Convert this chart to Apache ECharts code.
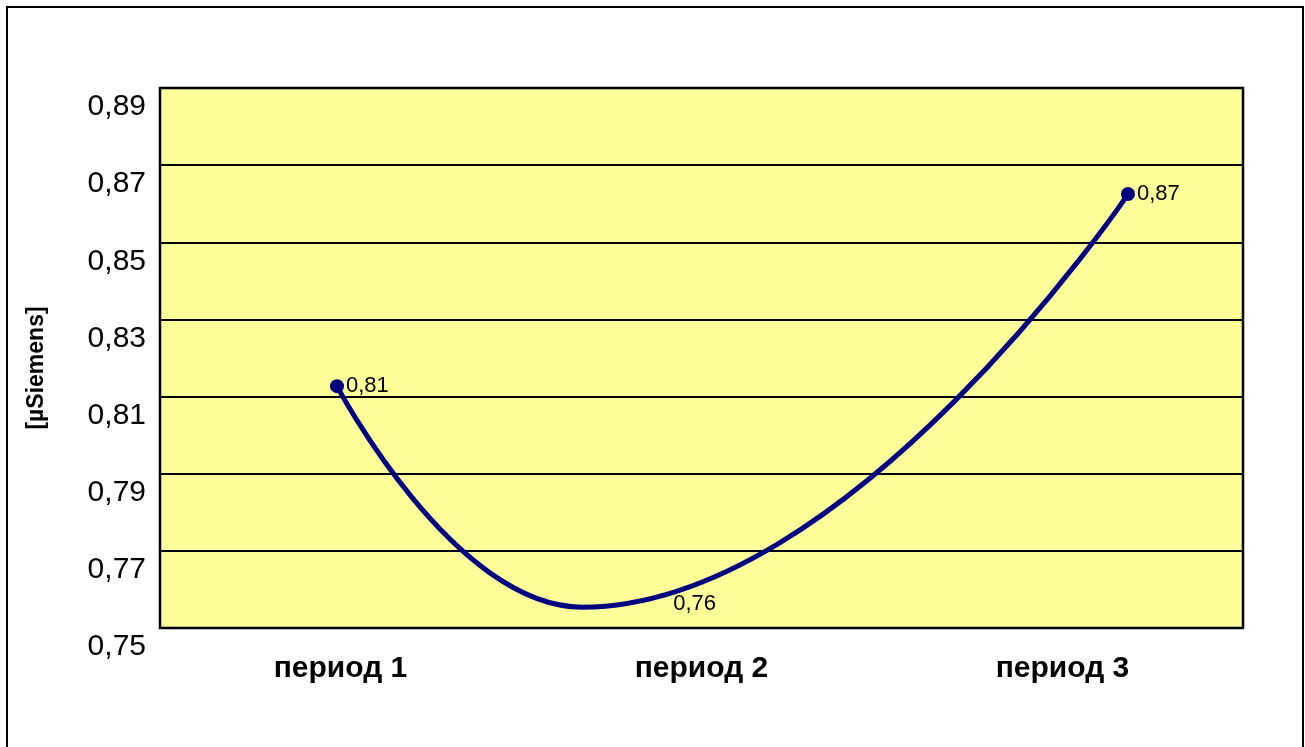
<!DOCTYPE html>
<html>
<head>
<meta charset="utf-8">
<script src="https://cdn.jsdelivr.net/npm/echarts@6/dist/echarts.min.js"></script>
<style>
html,body{margin:0;padding:0;background:#fff;}
#chart{width:1305px;height:747px;}
</style>
</head>
<body>
<div id="chart"></div>
<script>
// ---- data ----
const categories = ['период 1', 'период 2', 'период 3'];
const pointPeriod = [1, 1.62, 3];
const values = [0.8127, 0.7554, 0.8625];
const valueLabels = ['0,81', '0,76', '0,87'];
const yTicks = ['0,75', '0,77', '0,79', '0,81', '0,83', '0,85', '0,87', '0,89'];
const yMin = 0.75, yMax = 0.89, yStep = 0.02;
const yName = '[µSiemens]';

const chart = echarts.init(document.getElementById('chart'), null, {renderer: 'canvas'});

const lineData = values.map((v, i) => {
  const item = { value: [pointPeriod[i], v] };
  if (i === 1) {
    item.symbolSize = 0.01;
    item.label = { position: 'right', offset: [89, -3] };
  }
  return item;
});

const FONT = 'Liberation Sans, Arial, sans-serif';

chart.setOption({
  animation: false,
  backgroundColor: '#ffffff',
  graphic: [{
    type: 'rect',
    shape: { x: 7, y: 7, width: 1296, height: 745 },
    style: { fill: 'none', stroke: '#000', lineWidth: 2 },
    silent: true
  }],
  grid: {
    left: 160, right: 62, top: 88, bottom: 119,
    show: true,
    backgroundColor: '#FFFF99',
    borderColor: '#000',
    borderWidth: 2.5
  },
  xAxis: [{
    type: 'category',
    data: categories,
    boundaryGap: true,
    axisLine: { show: false },
    axisTick: { show: false },
    axisLabel: {
      margin: 26,
      color: '#000',
      fontFamily: FONT,
      fontWeight: 'bold',
      fontSize: 30
    }
  }, {
    type: 'value',
    show: false,
    min: 0.5525,
    max: 3.2908
  }],
  yAxis: {
    type: 'value',
    min: yMin, max: yMax, interval: yStep,
    name: yName,
    nameLocation: 'middle',
    nameGap: 112,
    nameRotate: 90,
    nameTextStyle: {
      color: '#000',
      fontFamily: FONT,
      fontWeight: 'bold',
      fontSize: 23,
      padding: [0, 0, 0, -20]
    },
    axisLine: { show: false },
    axisTick: { show: false },
    splitLine: { show: true, lineStyle: { color: '#000', width: 2 } },
    axisLabel: {
      margin: 14,
      color: '#000',
      fontFamily: FONT,
      fontSize: 30,
      lineHeight: 38,
      showMinLabel: true,
      showMaxLabel: true,
      hideOverlap: false,
      formatter: (v) => {
        const idx = Math.round((v - yMin) / yStep);
        return '\n' + (yTicks[idx] !== undefined ? yTicks[idx] : '');
      }
    }
  },
  series: [{
    type: 'line',
    xAxisIndex: 1,
    data: lineData,
    smooth: 0.5,
    symbol: 'circle',
    symbolSize: 14,
    lineStyle: { color: '#000080', width: 5 },
    itemStyle: { color: '#000080' },
    label: {
      show: true,
      position: 'right',
      distance: 2,
      color: '#000',
      fontFamily: FONT,
      fontSize: 22,
      formatter: (p) => valueLabels[p.dataIndex]
    }
  }]
});
</script>
</body>
</html>
